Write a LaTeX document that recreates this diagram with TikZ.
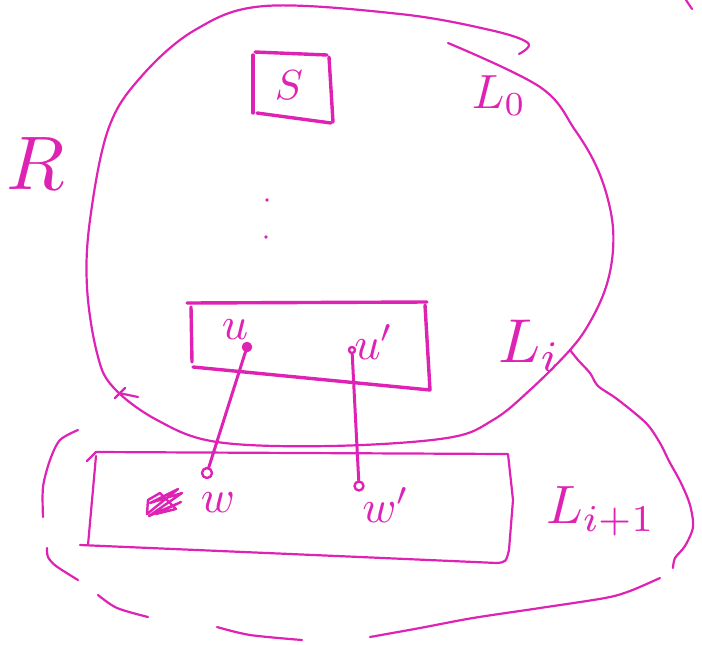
\documentclass[tikz,border=0pt]{standalone}
\definecolor{pen}{RGB}{222,34,180}
\begin{document}
\begin{tikzpicture}[x=0.5pt, y=-0.5pt, line cap=round, line join=round,
  pen line/.style={draw=pen, line width=1.1pt},
  box line/.style={draw=pen, line width=1.7pt},
  vtx/.style={circle, draw=pen, line width=1.2pt, inner sep=0pt, minimum size=5pt},
  every node/.style={text=pen, inner sep=0pt}]
  \useasboundingbox (0,0) rectangle (702,644);
  % region R, open at the top right with a hook
  \draw[pen line] plot[smooth, tension=0.6] coordinates {(448,43) (540,87) (575,130) (598,170) (611,213) (613,250) (606,287) (590,322) (570,350) (530,390) (493,420) (447,438) (330,446) (217,442) (157,420) (113,387) (97,353) (87,287) (90,220) (108,130) (140,78) (195,30) (265,6) (400,14) (490,30) (528,43) (519,54)};
  \draw[pen line] (115,398) -- (125,388);
  \draw[pen line] (119,393) -- (138,397);
  \draw[pen line] (686,0) -- (692,9);
  % region below, drawn in broken strokes
  \draw[pen line] plot[smooth] coordinates {(570,350) (578,360) (590,373) (598,386) (617,399) (646,423) (660,443) (669,461) (681,483) (690,505) (693,527) (685,546) (675,558) (673,568)};
  \draw[pen line] plot[smooth] coordinates {(660,578) (630,591) (605,598) (540,608) (473,618) (420,628) (370,637)};
  \draw[pen line] plot[smooth] coordinates {(302,640) (250,635) (217,627)};
  \draw[pen line] plot[smooth] coordinates {(148,617) (117,608) (98,595)};
  \draw[pen line] plot[smooth] coordinates {(78,580) (56,566) (48,557) (47,548)};
  \draw[pen line] plot[smooth] coordinates {(78,430) (60,440) (50,460) (43,487) (43,517)};
  % box S
  \draw[box line] (255,52) -- (327,55);
  \draw[box line] (253,55) -- (253,113);
  \draw[box line] (329,57) -- (333,122);
  \draw[box line] (257,113) -- (331,123);
  % box of layer L_i
  \draw[box line] (187,303) -- (427,302);
  \draw[box line] (191,307) -- (192,362);
  \draw[box line] (425,305) -- (430,390);
  \draw[box line] (193,367) -- (430,390);
  % box of layer L_{i+1}
  \draw[pen line] (87,461) -- (96,452) -- (508,454) -- (513,500) -- (509,550) .. controls (506,562) .. (497,563) -- (360,557) -- (80,545);
  \draw[pen line] (96,456) -- (88,545);
  % vertical dots
  \fill[pen] (267,200) circle (0.9pt);
  \fill[pen] (266,237) circle (0.9pt);
  % vertices and edges
  \node[vtx, fill=pen, minimum size=4pt] (u) at (247,347) {};
  \node[vtx, minimum size=3pt] (up) at (352,350) {};
  \node[vtx] (w) at (207,473) {};
  \node[vtx, minimum size=4.5pt] (wp) at (359,486) {};
  \draw[pen, line width=1.5pt] (u) -- (w);
  \draw[pen, line width=1.5pt] (up) -- (wp);
  % scribble left of w
  \draw[pen, line width=1.2pt] (147,514) -- (178,489) -- (150,503) -- (182,493) -- (149,516) -- (181,502) -- (156,514) -- (176,509) -- (160,493) -- (148,500) -- (147,514);
  % labels
  \node[scale=3.8] (lblR) at (36,164) {$R$};
  \node[scale=2.1] (lblS) at (289,85) {$S$};
  \node[anchor=base west, scale=2.4] (lblLzero) at (471,108) {$L_0$};
  \node[anchor=base west, scale=3.1] (lblLi) at (497,362) {$L_i$};
  \node[anchor=base west, scale=2.7] (lblLii) at (545,523) {$L_{i+1}$};
  \node[scale=2.3] (lblu) at (235,330) {$u$};
  \node[scale=2.3] (lblup) at (374,342) {$u'$};
  \node[scale=2.3] (lblw) at (218,503) {$w$};
  \node[scale=2.3] (lblwp) at (386,505) {$w'$};
\end{tikzpicture}
\end{document}
